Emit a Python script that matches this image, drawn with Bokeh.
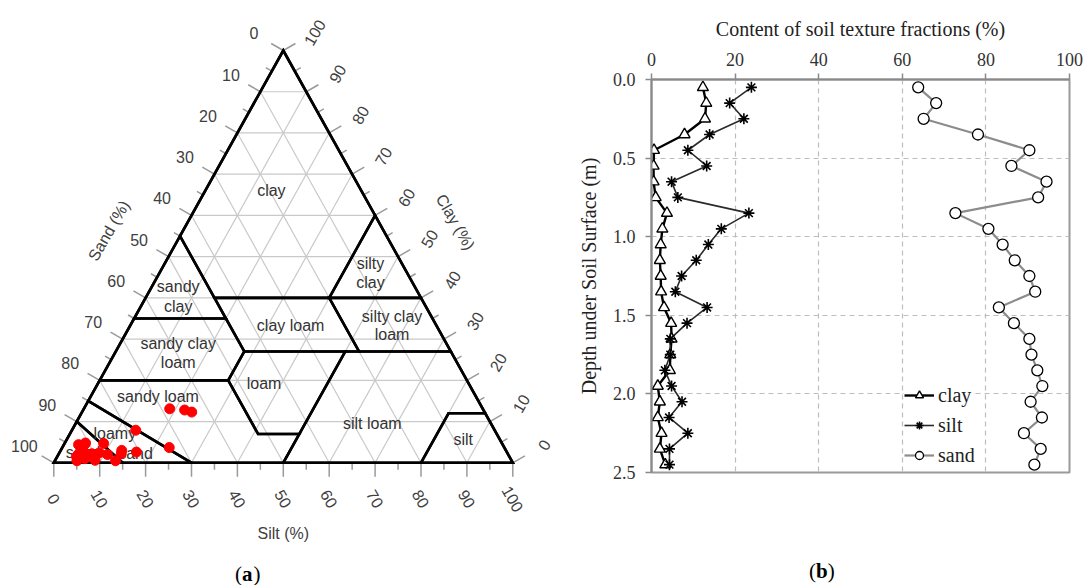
import numpy as np
from bokeh.plotting import figure
from bokeh.layouts import row, column
from bokeh.models import Range1d, Div, Legend, LegendItem, FixedTicker, PrintfTickFormatter
from bokeh.embed import file_html
from bokeh.resources import INLINE
from bokeh.core.properties import value

# ---------------- data ----------------
depth = [0.05, 0.15, 0.25, 0.35, 0.45, 0.55, 0.65, 0.75, 0.85, 0.95, 1.05, 1.15, 1.25,
         1.35, 1.45, 1.55, 1.65, 1.75, 1.85, 1.95, 2.05, 2.15, 2.25, 2.35, 2.45]
clay = [12.3, 13.1, 12.8, 7.9, 0.6, 0.5, 0.5, 1.0, 3.7, 2.6, 2.2, 2.0, 2.2,
        2.3, 3.0, 4.7, 4.8, 4.5, 4.4, 1.5, 2.0, 1.5, 2.4, 2.0, 3.3]
silt = [23.9, 18.7, 22.1, 13.9, 8.7, 13.2, 4.8, 6.3, 23.3, 16.7, 13.6, 10.7, 7.2,
        5.7, 13.3, 8.5, 4.5, 4.5, 3.2, 4.8, 7.3, 4.2, 8.7, 4.3, 4.3]
sand = [63.8, 68.1, 65.1, 78.1, 90.4, 86.1, 94.5, 92.5, 72.7, 80.6, 84.0, 86.9, 90.4,
        91.8, 83.1, 86.7, 90.4, 90.9, 92.3, 93.5, 90.7, 93.4, 89.1, 93.1, 91.6]

depth_ticks = [0.0, 0.5, 1.0, 1.5, 2.0, 2.5]
content_ticks = [0, 20, 40, 60, 80, 100]
tern_ticks = list(range(0, 101, 5))
tern_grid = list(range(10, 100, 10))

# USDA texture classes as (silt, clay) vertices
class_names = ["clay", "silty clay", "sandy clay", "clay loam", "silty clay loam",
               "sandy clay loam", "loam", "silt loam", "silt", "sandy loam",
               "loamy sand", "sand"]
class_silt = [[0, 0, 15, 40, 40], [40, 40, 60], [0, 0, 20, 15], [15, 40, 53, 28, 20],
              [40, 60, 73, 53], [0, 0, 28, 28, 20], [28, 50, 50, 41, 28],
              [50, 73, 88, 80, 80, 50, 50], [80, 88, 100, 80],
              [0, 28, 41, 50, 50, 30, 0], [0, 30, 15, 0], [0, 15, 0]]
class_clay = [[100, 55, 40, 40, 60], [60, 40, 40], [55, 35, 35, 40], [40, 40, 27, 27, 35],
              [40, 40, 27, 27], [35, 20, 20, 27, 35], [27, 27, 7, 7, 20],
              [27, 27, 12, 12, 0, 0, 7], [12, 12, 0, 0],
              [20, 20, 7, 7, 0, 0, 15], [15, 0, 0, 10], [10, 0, 0]]

# class label text lines and their anchor positions (plot coords)
lab_text = ["clay", "silty", "clay", "sandy", "clay", "clay loam", "silty clay", "loam",
            "sandy clay", "loam", "loam", "sandy loam", "silt loam", "silt", "loamy",
            "sand", "sand"]
lab_x = [47.4, 69.0, 69.0, 27.1, 27.1, 51.6, 73.7, 73.7, 27.1, 27.1, 45.8, 22.7, 69.4,
         89.2, 13.3, 17.8, 6.4]
lab_y = [66.0, 48.3, 43.7, 42.8, 37.9, 33.3, 35.6, 31.1, 29.0, 24.4, 19.2, 16.2, 9.5,
         5.6, 7.0, 2.2, 2.4]


def tern(s, c):
    s = np.asarray(s, float)
    c = np.asarray(c, float)
    return s + c / 2.0, c


# ---------------- panel (a): texture triangle ----------------
WA, HA = 568, 585
xa = Range1d(-11.612, 112.135)
ya = Range1d(-29.760, 112.127)
kx = WA / (xa.end - xa.start)
ky = HA / (ya.end - ya.start)

pa = figure(width=WA, height=HA, x_range=xa, y_range=ya, output_backend="svg",
            toolbar_location=None, x_axis_type=None, y_axis_type=None, min_border=0,
            outline_line_color=None, frame_align=False)
pa.grid.visible = False

SANS = value("Liberation Sans")
GRID_C = "#c9c9c9"

# grid lines
gx0, gy0, gx1, gy1 = [], [], [], []
for v in tern_grid:
    a = tern(0, v); b = tern(100 - v, v)
    gx0.append(a[0]); gy0.append(a[1]); gx1.append(b[0]); gy1.append(b[1])
    a = tern(v, 0); b = tern(v, 100 - v)
    gx0.append(a[0]); gy0.append(a[1]); gx1.append(b[0]); gy1.append(b[1])
    a = tern(100 - v, 0); b = tern(0, 100 - v)
    gx0.append(a[0]); gy0.append(a[1]); gx1.append(b[0]); gy1.append(b[1])
pa.segment(gx0, gy0, gx1, gy1, line_color=GRID_C, line_width=1.2)

# ticks and tick labels
c30, s30 = np.cos(np.pi / 6), np.sin(np.pi / 6)
sides = [
    ("left", lambda v: tern(0, 100 - v), (-c30, s30), 34, 0.0),
    ("right", lambda v: tern(100 - v, v), (c30, s30), 36, np.pi / 3),
    ("bottom", lambda v: tern(v, 0), (0.0, -1.0), 36, -np.pi / 3),
]
tx0, ty0, tx1, ty1 = [], [], [], []
lx, ly, lt, la = [], [], [], []
for name, fn, (dx, dy), dist, ang in sides:
    for v in tern_ticks:
        bx, by = fn(v)
        L = 14 if v % 10 == 0 else 7
        tx0.append(float(bx)); ty0.append(float(by))
        tx1.append(float(bx + dx * L / kx)); ty1.append(float(by + dy * L / ky))
        if v % 10 == 0:
            lx.append(float(bx + dx * dist / kx)); ly.append(float(by + dy * dist / ky))
            lt.append(str(v)); la.append(ang)
pa.segment(tx0, ty0, tx1, ty1, line_color="#9a9a9a", line_width=1.5)
pa.text(lx, ly, text=lt, angle=la, text_align="center", text_baseline="middle",
        text_font=SANS, text_font_size="16px", text_color="#404040")

# axis titles
pa.text([12.0, 87.5, 50.0], [56.3, 58.4, -17.1], text=["Sand (%)", "Clay (%)", "Silt (%)"],
        angle=[np.pi / 3, -np.pi / 3, 0], text_align="center", text_baseline="middle",
        text_font=SANS, text_font_size="16px", text_color="#404040")

# class polygons
pxs, pys = [], []
for s_, c_ in zip(class_silt, class_clay):
    X, Y = tern(s_, c_)
    pxs.append(list(X)); pys.append(list(Y))
pa.patches(pxs, pys, fill_color=None, line_color="black", line_width=2.6,
           line_join="miter")
TX, TY = tern([0, 100, 0], [0, 0, 100])
pa.patch(list(TX), list(TY), fill_color=None, line_color="black", line_width=2.6,
         line_join="miter")

pa.text(lab_x, lab_y, text=lab_text, text_align="center", text_baseline="middle",
        text_font=SANS, text_font_size="16px", text_color="#333333")

# samples
SX, SY = tern(silt, clay)
pa.scatter(list(SX), list(SY), size=10, color="#ff0000", line_color="#ff0000")

SERIF_V = value("Liberation Serif")
pa.text([41.0], [-26.85], text=["("], text_align="right", text_baseline="middle",
        text_font=SERIF_V, text_font_size="21px", text_color="black")
pa.text([41.0], [-26.85], text=["a"], text_align="left", text_baseline="middle",
        text_font=SERIF_V, text_font_size="21px", text_font_style="bold",
        text_color="black")
pa.text([43.5], [-26.85], text=[")"], text_align="left", text_baseline="middle",
        text_font=SERIF_V, text_font_size="21px", text_color="black")

# ---------------- panel (b): profile ----------------
SERIF = "Liberation Serif"
pb = figure(width=516, height=535, x_range=Range1d(0, 100), y_range=Range1d(2.5, 0),
            x_axis_location="above", output_backend="svg", toolbar_location=None,
            min_border_left=83, min_border_right=15, min_border_top=79,
            min_border_bottom=63, outline_line_color="#9a9a9a", outline_line_width=2,
            frame_align=False)

pb.xaxis.ticker = FixedTicker(ticks=content_ticks)
pb.yaxis.ticker = FixedTicker(ticks=depth_ticks)
pb.xaxis.formatter = PrintfTickFormatter(format="%d")
pb.yaxis.formatter = PrintfTickFormatter(format="%.1f")
pb.xaxis.axis_label = "Content of soil texture fractions (%)"
pb.yaxis.axis_label = "Depth under Soil Surface (m)"
for ax in (pb.xaxis[0], pb.yaxis[0]):
    ax.axis_label_text_font = SERIF
    ax.axis_label_text_font_size = "20px"
    ax.axis_label_text_font_style = "normal"
    ax.axis_label_text_color = "#222222"
    ax.axis_label_standoff = 10
    ax.major_label_text_font = SERIF
    ax.major_label_text_font_size = "18px"
    ax.major_label_text_color = "#333333"
    ax.major_label_standoff = 10
    ax.axis_line_color = "#8a8a8a"
    ax.axis_line_width = 2
    ax.major_tick_line_color = "#8a8a8a"
    ax.major_tick_line_width = 1.5
    ax.major_tick_out = 6
    ax.major_tick_in = 0
    ax.minor_tick_line_color = None
pb.xaxis.major_label_standoff = 8

for g in (pb.xgrid[0], pb.ygrid[0]):
    g.grid_line_color = "#bdbdbd"
    g.grid_line_dash = "5 4"
    g.grid_line_width = 1.2
pb.xgrid.ticker = FixedTicker(ticks=content_ticks)
pb.ygrid.ticker = FixedTicker(ticks=depth_ticks)

l_clay = pb.line(clay, depth, line_color="black", line_width=2.4)
m_clay = pb.scatter(clay, depth, marker="triangle", size=11, fill_color="white",
                    line_color="black", line_width=1.4)
l_silt = pb.line(silt, depth, line_color="#2a2a2a", line_width=1.6)
m_silt = pb.scatter(silt, depth, marker="asterisk", size=11, line_color="black",
                    line_width=1.6)
l_sand = pb.line(sand, depth, line_color="#8c8c8c", line_width=2.2)
m_sand = pb.scatter(sand, depth, marker="circle", size=11, fill_color="white",
                    line_color="black", line_width=1.3)

legend = Legend(items=[LegendItem(label="clay", renderers=[l_clay, m_clay]),
                       LegendItem(label="silt", renderers=[l_silt, m_silt]),
                       LegendItem(label="sand", renderers=[l_sand, m_sand])],
                location=(253, 2), padding=8, margin=0, spacing=0,
                glyph_width=30, glyph_height=20, label_height=30, label_standoff=4,
                label_text_font=SERIF, label_text_font_size="20px",
                label_text_color="#222222", border_line_color=None,
                background_fill_color="white", background_fill_alpha=1.0)
pb.add_layout(legend)

cap_b = Div(text='<div style="padding-left:241px;padding-top:24px;'
                 'font-family:\'Liberation Serif\';font-size:21px;line-height:25px;'
                 'color:black">(<b>b</b>)</div>',
            width=516, height=50, margin=0)

layout = row(pa, column(pb, cap_b))
open("out.html", "w").write(file_html(layout, INLINE))
